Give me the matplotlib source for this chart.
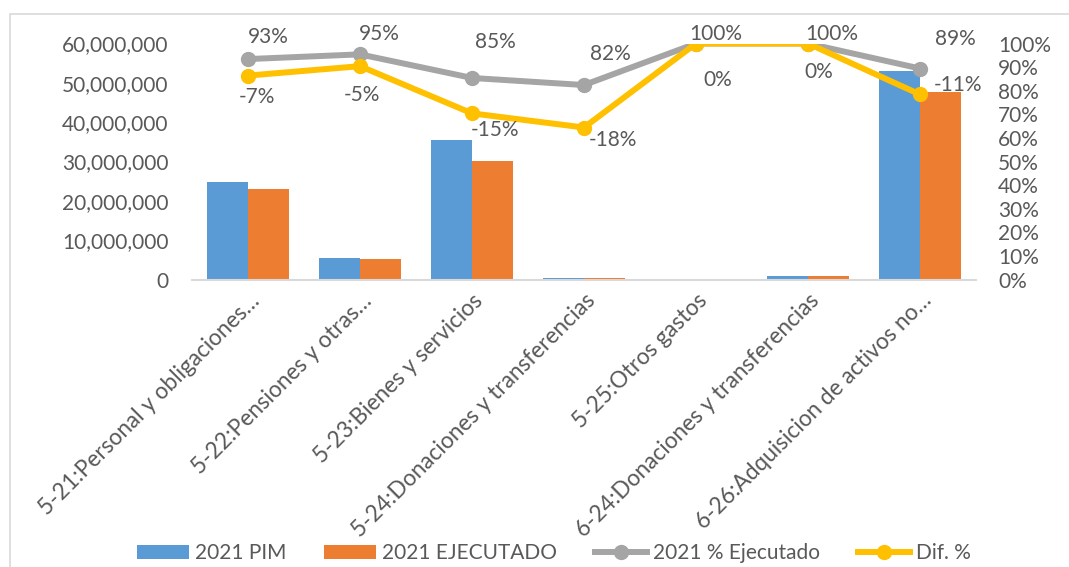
import matplotlib.pyplot as plt
import matplotlib.transforms as mtransforms
from matplotlib.patches import Rectangle
from matplotlib.ticker import FuncFormatter, MultipleLocator
import numpy as np

plt.rcParams['font.family'] = ['Lato', 'DejaVu Sans']

categories = ['5-21:Personal y obligaciones\u2026',
              '5-22:Pensiones y otras\u2026',
              '5-23:Bienes y servicios',
              '5-24:Donaciones y transferencias',
              '5-25:Otros gastos',
              '6-24:Donaciones y transferencias',
              '6-26:Adquisicion de activos no\u2026']
pim = [24.7e6, 5.4e6, 35.4e6, 0.45e6, 0.02e6, 0.9e6, 53.1e6]
ejecutado = [23.0e6, 5.1e6, 30.2e6, 0.37e6, 0.02e6, 0.9e6, 47.6e6]
pct_ejec = [0.934, 0.954, 0.854, 0.824, 1.0, 1.0, 0.894]
dif = [-0.07, -0.05, -0.15, -0.18, 0.0, 0.0, -0.11]

# label offsets in pixels (dx, dy), hand placed like the original
ejec_off = [(20, 22), (19, 20), (23, 36), (26, 31), (20, 9), (24, 9), (35, 30)]
dif_off = [(9, -21), (2, -29), (23, -17), (29, -12), (22, -36), (11, -29), (38, 9)]

BLUE = '#5B9BD5'
ORANGE = '#ED7D31'
GRAY = '#A5A5A5'
YELLOW = '#FFC000'
TXT = '#595959'
FS = 15

fig = plt.figure(figsize=(10.69, 5.67), dpi=100)
fig.patches.append(Rectangle((10 / 1069, -0.1), 1.2, 1 - 14 / 567 + 0.1,
                             transform=fig.transFigure, fill=False,
                             edgecolor='#D9D9D9', linewidth=1.2))

ax = fig.add_axes([192 / 1069, 1 - 279.5 / 567, 784 / 1069, 236 / 567])
x = np.arange(len(categories))
w = 0.366
ax.bar(x - w / 2, pim, w, color=BLUE, label='2021 PIM')
ax.bar(x + w / 2, ejecutado, w, color=ORANGE, label='2021 EJECUTADO')
ax.set_xlim(-0.5, len(categories) - 0.5)
ax.set_ylim(0, 60e6)
ax.yaxis.set_major_locator(MultipleLocator(10e6))
ax.yaxis.set_major_formatter(FuncFormatter(lambda v, p: f'{v:,.0f}'))
for s in ['top', 'right', 'left']:
    ax.spines[s].set_visible(False)
ax.spines['bottom'].set_color('#D9D9D9')
ax.spines['bottom'].set_linewidth(1.5)
ax.tick_params(axis='both', length=0, labelcolor=TXT, labelsize=FS)
ax.tick_params(axis='y', pad=17)
ax.set_xticks(x)
ax.set_xticklabels(categories, rotation=45, ha='right', va='center',
                   rotation_mode='anchor', fontsize=16.3)
shift = mtransforms.ScaledTranslation(8 / 100, -13 / 100, fig.dpi_scale_trans)
for lab in ax.get_xticklabels():
    lab.set_transform(lab.get_transform() + shift)

ax2 = ax.twinx()
yellow_pos = [p + d for p, d in zip(pct_ejec, dif)]
ax2.plot(x, pct_ejec, color=GRAY, lw=4.3, marker='o', ms=10,
         label='2021 % Ejecutado')
ax2.plot(x, yellow_pos, color=YELLOW, lw=4.3, marker='o', ms=10,
         label='Dif. %')
ax2.set_ylim(0, 1)
ax2.yaxis.set_major_locator(MultipleLocator(0.1))
ax2.yaxis.set_major_formatter(FuncFormatter(lambda v, p: f'{v:.0%}'))
for s in ax2.spines.values():
    s.set_visible(False)
ax2.tick_params(axis='y', length=0, labelcolor=TXT, labelsize=FS, pad=16)

for i in range(len(categories)):
    ax2.annotate(f'{pct_ejec[i]:.0%}', (x[i], pct_ejec[i]), xytext=ejec_off[i],
                 textcoords='offset pixels', ha='center', va='center',
                 color=TXT, fontsize=FS)
    ax2.annotate(f'{dif[i]:.0%}', (x[i], yellow_pos[i]), xytext=dif_off[i],
                 textcoords='offset pixels', ha='center', va='center',
                 color=TXT, fontsize=FS)

h1, l1 = ax.get_legend_handles_labels()
h2, l2 = ax2.get_legend_handles_labels()
fig.legend(h1 + h2, l1 + l2, loc='center', bbox_to_anchor=(554 / 1069, 1 - 553 / 567),
           ncol=4, frameon=False, fontsize=FS, labelcolor=TXT,
           handlelength=2.5, handleheight=0.65, handletextpad=0.3,
           columnspacing=1.8)

fig.savefig('out.png', dpi=100)
